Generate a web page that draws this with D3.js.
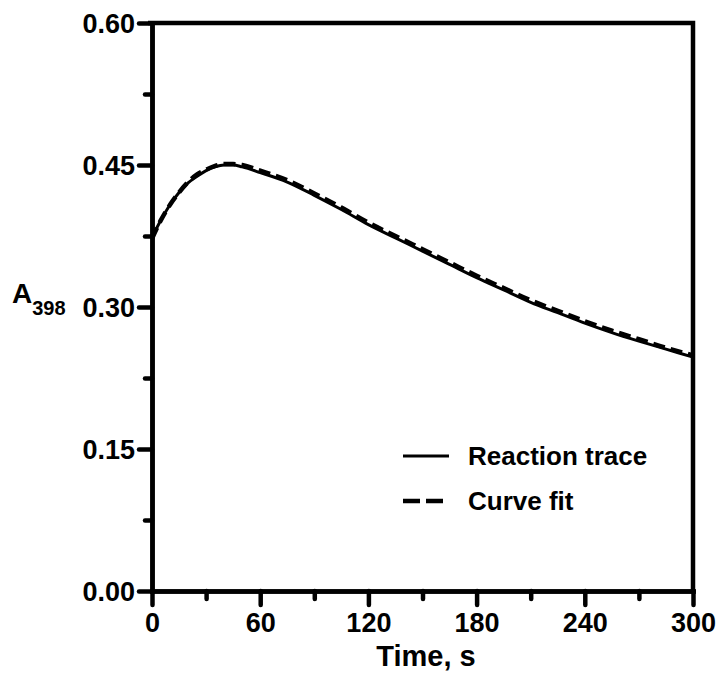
<!DOCTYPE html>
<html>
<head>
<meta charset="utf-8">
<script src="https://cdn.jsdelivr.net/npm/d3@7"></script>
<style>
  body { margin: 0; background: #fff; }
  svg text { font-family: "Liberation Sans", Arial, sans-serif; font-weight: bold; fill: #000; }
</style>
</head>
<body>
<div id="root"></div>
<script>
// time points (s)
var times = [0, 5, 10, 15, 20, 25, 30, 35, 40, 45, 50, 60, 75, 90, 105, 120, 135, 150, 165, 180, 195, 210, 225, 240, 255, 270, 285, 300];
// absorbance at 398 nm, measured
var traceA = [0.374, 0.392, 0.408, 0.421, 0.431, 0.438, 0.444, 0.448, 0.450, 0.450, 0.448, 0.442, 0.432, 0.418, 0.403, 0.387, 0.373, 0.359, 0.345, 0.331, 0.318, 0.305, 0.294, 0.283, 0.273, 0.264, 0.2555, 0.247];
// fitted curve
var fitA = [0.372, 0.392, 0.408, 0.421, 0.432, 0.440, 0.445, 0.449, 0.451, 0.451, 0.450, 0.444, 0.434, 0.420, 0.405, 0.389, 0.375, 0.361, 0.347, 0.333, 0.320, 0.307, 0.296, 0.285, 0.275, 0.266, 0.257, 0.249];

var xTicks = [0, 60, 120, 180, 240, 300];
var xMinor = [30, 90, 150, 210, 270];
var yTicks = [0, 0.15, 0.30, 0.45, 0.60];
var yMinor = [0.075, 0.225, 0.375, 0.525];

var legendNames = ["Reaction trace", "Curve fit"];

var w = 721, h = 690;
var margin = { top: 23, right: 28, bottom: 99, left: 152 };

var svg = d3.select("#root").append("svg").attr("width", w).attr("height", h);

var x = d3.scaleLinear().domain([0, 300]).range([margin.left, w - margin.right]);
var y = d3.scaleLinear().domain([0, 0.6]).range([h - margin.bottom, margin.top]);

// frame top + right
svg.append("path")
  .attr("d", "M" + (margin.left - 4) + "," + y(0.6) + "H" + x(300) + "V" + y(0))
  .attr("fill", "none").attr("stroke", "#000").attr("stroke-width", 4.5);

// minor ticks first
svg.append("g").attr("transform", "translate(" + margin.left + ",0)")
  .call(d3.axisLeft(y).tickValues(yMinor).tickSize(7).tickSizeOuter(0).tickFormat(""))
  .call(styleAxis);
svg.append("g").attr("transform", "translate(0," + y(0) + ")")
  .call(d3.axisBottom(x).tickValues(xMinor).tickSize(8).tickSizeOuter(0).tickFormat(""))
  .call(styleAxis);

// major axes
var yAxis = d3.axisLeft(y).tickValues(yTicks).tickSize(13).tickPadding(4).tickSizeOuter(0).tickFormat(d3.format(".2f"));
svg.append("g").attr("transform", "translate(" + margin.left + ",0)").call(yAxis).call(styleAxis)
  .selectAll("text").style("font-size", "27px").attr("dy", "0.36em");

var xAxis = d3.axisBottom(x).tickValues(xTicks).tickSize(14).tickPadding(8).tickSizeOuter(0);
svg.append("g").attr("transform", "translate(0," + y(0) + ")").call(xAxis).call(styleAxis)
  .selectAll("text").style("font-size", "27px");

function styleAxis(g) {
  g.select(".domain").attr("stroke-width", 4.5).attr("stroke-linecap", "square");
  g.selectAll(".tick line").attr("stroke-width", 4.5).attr("stroke-linecap", "round");
}

// curves
var pts = times.map(function(t, i) { return { t: t, a: traceA[i], f: fitA[i] }; });
var lineTrace = d3.line().x(function(d) { return x(d.t); }).y(function(d) { return y(d.a); }).curve(d3.curveMonotoneX);
var lineFit = d3.line().x(function(d) { return x(d.t); }).y(function(d) { return y(d.f); }).curve(d3.curveMonotoneX);

svg.append("path").datum(pts).attr("d", lineTrace)
  .attr("fill", "none").attr("stroke", "#000").attr("stroke-width", 3);
svg.append("path").datum(pts).attr("d", lineFit)
  .attr("fill", "none").attr("stroke", "#000").attr("stroke-width", 4.5).attr("stroke-dasharray", "12,6");

// legend
var leg = svg.append("g");
legendNames.forEach(function(name, i) {
  var ly = 456 + i * 45;
  leg.append("line").attr("x1", 403).attr("x2", 449).attr("y1", ly).attr("y2", ly)
    .attr("stroke", "#000").attr("stroke-width", i ? 4.5 : 3)
    .attr("stroke-dasharray", i ? "17,6" : null);
  leg.append("text").attr("x", 468).attr("y", ly + 9).style("font-size", "26px").text(name);
});

// axis titles
svg.append("text").attr("x", 426).attr("y", 666).attr("text-anchor", "middle").style("font-size", "29px").text("Time, s");
var yt = svg.append("text").attr("x", 12).attr("y", 303).style("font-size", "28px");
yt.append("tspan").text("A");
yt.append("tspan").attr("dy", 12).style("font-size", "20px").text("398");
</script>
</body>
</html>
